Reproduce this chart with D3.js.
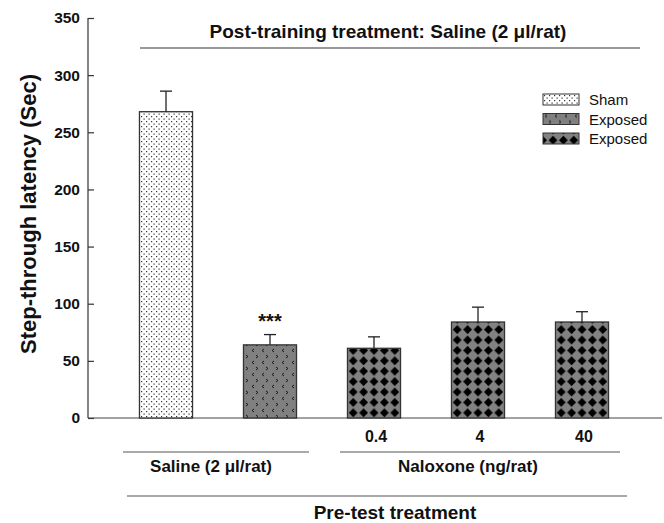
<!DOCTYPE html>
<html>
<head>
<meta charset="utf-8">
<script src="https://cdn.jsdelivr.net/npm/d3@7"></script>
<style>
  body { margin: 0; background: #fff; }
  text { font-family: "Liberation Sans", Arial, sans-serif; font-weight: bold; fill: #111; }
</style>
</head>
<body>
<svg></svg>
<script>
// datos de la gráfica
let barKeys = ["sham", "exposed", "nal04", "nal4", "nal40"];
let barLabels = ["", "", "0.4", "4", "40"];
let latency = [268, 64, 61, 84, 84];
let sem = [18, 9, 10, 13, 9];
let fillType = ["sham", "exposedSal", "exposedNal", "exposedNal", "exposedNal"];
let legendNames = ["Sham", "Exposed", "Exposed"];
let legendFills = ["sham", "exposedSal", "exposedNal"];
let yTicks = [0, 50, 100, 150, 200, 250, 300, 350];

let svgWidth = 664;
let svgHeight = 523;

let svg = d3.select("svg")
  .attr("width", svgWidth)
  .attr("height", svgHeight);

// patrones de relleno
let defs = svg.append("defs");

let pSham = defs.append("pattern").attr("id", "sham")
  .attr("patternUnits", "userSpaceOnUse").attr("width", 5).attr("height", 5);
pSham.append("rect").attr("width", 5).attr("height", 5).attr("fill", "#fff");
pSham.append("rect").attr("x", 1).attr("y", 1).attr("width", 1.2).attr("height", 1.2).attr("fill", "#333");
pSham.append("rect").attr("x", 3.5).attr("y", 3.5).attr("width", 1.2).attr("height", 1.2).attr("fill", "#333");

let pSal = defs.append("pattern").attr("id", "exposedSal")
  .attr("patternUnits", "userSpaceOnUse").attr("width", 10).attr("height", 12);
pSal.append("rect").attr("width", 10).attr("height", 12).attr("fill", "#808080");
pSal.append("path").attr("d", "M4,1 L2,2.5 L4,4 M6,7 L8,8.5 L6,10")
  .attr("fill", "none").attr("stroke", "#111").attr("stroke-width", 0.9);

let pNal = defs.append("pattern").attr("id", "exposedNal")
  .attr("patternUnits", "userSpaceOnUse").attr("width", 10.4).attr("height", 10.4)
  .attr("x", 348).attr("y", 2);
pNal.append("rect").attr("width", 10.4).attr("height", 10.4).attr("fill", "#828282");
pNal.append("path").attr("d", "M5.2,0.8 L9.6,5.2 L5.2,9.6 L0.8,5.2 Z").attr("fill", "#000");

// escalas
let x = d3.scaleBand()
  .domain(barKeys)
  .range([88, 660])
  .paddingInner(0.49)
  .paddingOuter(0.495);

let y = d3.scaleLinear()
  .domain([0, 350])
  .range([418, 18]);

// ejes
let yAxis = svg.append("g")
  .attr("transform", "translate(88,0)")
  .call(d3.axisRight(y).tickValues(yTicks).tickSize(6).tickFormat(d3.format("d")));
yAxis.select(".domain").attr("d", "M0," + y(350) + "V" + y(0)).attr("stroke", "#333").attr("stroke-width", 1.2);
yAxis.selectAll(".tick line").attr("stroke", "#333").attr("stroke-width", 1.2);
yAxis.selectAll(".tick text")
  .attr("x", -8).attr("dx", 0)
  .attr("text-anchor", "end")
  .style("font-size", "15.5px")
  .style("font-family", "Liberation Sans, Arial, sans-serif")
  .style("font-weight", "bold")
  .attr("fill", "#111");

svg.append("line")
  .attr("x1", 88).attr("x2", 662)
  .attr("y1", y(0)).attr("y2", y(0))
  .attr("stroke", "#444").attr("stroke-width", 1.2);

// barras
svg.selectAll("rect.bar")
  .data(latency)
  .enter()
  .append("rect")
  .attr("class", "bar")
  .attr("x", (d, i) => x(barKeys[i]))
  .attr("y", d => y(d))
  .attr("width", x.bandwidth())
  .attr("height", d => y(0) - y(d))
  .attr("fill", (d, i) => "url(#" + fillType[i] + ")")
  .attr("stroke", "#333")
  .attr("stroke-width", 1.3);

// barras de error
let err = svg.selectAll("g.err")
  .data(latency)
  .enter()
  .append("g")
  .attr("stroke", "#222")
  .attr("stroke-width", 1.3);
err.append("line")
  .attr("x1", (d, i) => x(barKeys[i]) + x.bandwidth() / 2)
  .attr("x2", (d, i) => x(barKeys[i]) + x.bandwidth() / 2)
  .attr("y1", d => y(d))
  .attr("y2", (d, i) => y(d + sem[i]));
err.append("line")
  .attr("x1", (d, i) => x(barKeys[i]) + x.bandwidth() / 2 - 6)
  .attr("x2", (d, i) => x(barKeys[i]) + x.bandwidth() / 2 + 6)
  .attr("y1", (d, i) => y(d + sem[i]))
  .attr("y2", (d, i) => y(d + sem[i]));

// asteriscos
svg.append("text")
  .attr("x", x("exposed") + x.bandwidth() / 2)
  .attr("y", y(latency[1] + sem[1]) - 7)
  .attr("text-anchor", "middle")
  .style("font-size", "20px")
  .text("***");

// etiquetas de dosis
svg.selectAll("text.dose")
  .data(barLabels)
  .enter()
  .append("text")
  .attr("class", "dose")
  .attr("x", (d, i) => x(barKeys[i]) + x.bandwidth() / 2 + 2)
  .attr("y", 442)
  .attr("text-anchor", "middle")
  .style("font-size", "16px")
  .text(d => d);

// líneas de grupo
let groupLines = [[123, 309, 452], [340, 620, 452], [127, 627, 496]];
svg.selectAll("line.grp")
  .data(groupLines)
  .enter()
  .append("line")
  .attr("x1", d => d[0]).attr("x2", d => d[1])
  .attr("y1", d => d[2]).attr("y2", d => d[2])
  .attr("stroke", "#555")
  .attr("stroke-width", 1.2);
svg.append("line")
  .attr("x1", 140).attr("x2", 640)
  .attr("y1", 48).attr("y2", 48)
  .attr("stroke", "#999").attr("stroke-width", 1.8);

svg.append("text").attr("x", 211).attr("y", 472).attr("text-anchor", "middle")
  .style("font-size", "17px")
  .text("Saline (2 \u03bcl/rat)");
svg.append("text").attr("x", 468).attr("y", 472).attr("text-anchor", "middle")
  .style("font-size", "17px")
  .text("Naloxone (ng/rat)");
svg.append("text").attr("x", 395).attr("y", 519).attr("text-anchor", "middle")
  .style("font-size", "19px")
  .text("Pre-test treatment");
svg.append("text").attr("x", 388).attr("y", 38).attr("text-anchor", "middle")
  .style("font-size", "19px")
  .text("Post-training treatment: Saline (2 \u03bcl/rat)");

// título eje y
svg.append("text")
  .attr("transform", "translate(36,214) rotate(-90)")
  .attr("text-anchor", "middle")
  .style("font-size", "22px")
  .text("Step-through latency (Sec)");

// leyenda
let legend = svg.selectAll("g.legend")
  .data(legendNames)
  .enter()
  .append("g")
  .attr("transform", (d, i) => "translate(543," + (94 + i * 19.5) + ")");
legend.append("rect")
  .attr("width", 36).attr("height", 11)
  .attr("fill", (d, i) => "url(#" + legendFills[i] + ")")
  .attr("stroke", "#333").attr("stroke-width", 1);
legend.append("text")
  .attr("x", 46).attr("y", 11)
  .style("font-size", "15px")
  .style("font-weight", "normal")
  .text(d => d);
</script>
</body>
</html>
